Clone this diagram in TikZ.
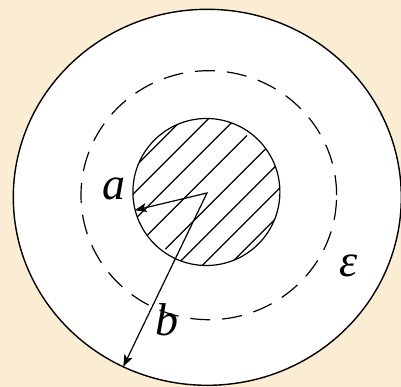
\documentclass[tikz,border=0pt]{standalone}
\usepackage{fontspec}
\setmainfont{Liberation Serif}
\usetikzlibrary{arrows.meta}
\definecolor{bgbeige}{RGB}{250,237,212}
\begin{document}
\begin{tikzpicture}[x=1pt,y=-1pt,
  lbl/.style={inner sep=0pt, font=\fontsize{46}{46}\selectfont\itshape},
  ln/.style={line width=1.2pt, draw=black},
  arr/.style={ln, line join=miter, {Stealth[length=12pt,width=9pt,inset=3pt]}-{Stealth[length=12pt,width=9pt,inset=3pt]}}]
\useasboundingbox (0,0) rectangle (401,387);
\fill[bgbeige] (0,0) rectangle (401,387);
% outer boundary
\filldraw[fill=white, draw=black, line width=1.4pt] (207.3,197.3) ellipse [x radius=194pt, y radius=188pt];
% dashed surface
\draw[ln, dash pattern=on 20pt off 12pt] (208.8,195.2) ellipse [x radius=127.8pt, y radius=124.5pt];
% hatching of inner conductor
\begin{scope}
  \clip (206.4,192) circle [radius=73.5pt];
  \foreach \c in {301.7,327.3,354.3,441.7,467.7,494.3}
    \draw[ln] ({\c-100},100) -- ({\c-290},290);
  \draw[ln] (92.5,290) -- (247,135.5);
  \draw[ln] (165.3,249.2) -- (314.5,100);
\end{scope}
\draw[ln] (206.4,192) circle [radius=73.5pt];
% radii
\coordinate (O) at (207,193);
\coordinate (A) at (134.7,210.3);
\coordinate (B) at (123.3,366.7);
\draw[arr] (A) -- (O) -- (B);
% labels
\node[lbl] (la) at (114.2,188.8) {a};
\node[lbl] (lb) at (166.7,319.5) {b};
\node[lbl] (le) at (348.5,265.8) {ε};
\end{tikzpicture}
\end{document}
